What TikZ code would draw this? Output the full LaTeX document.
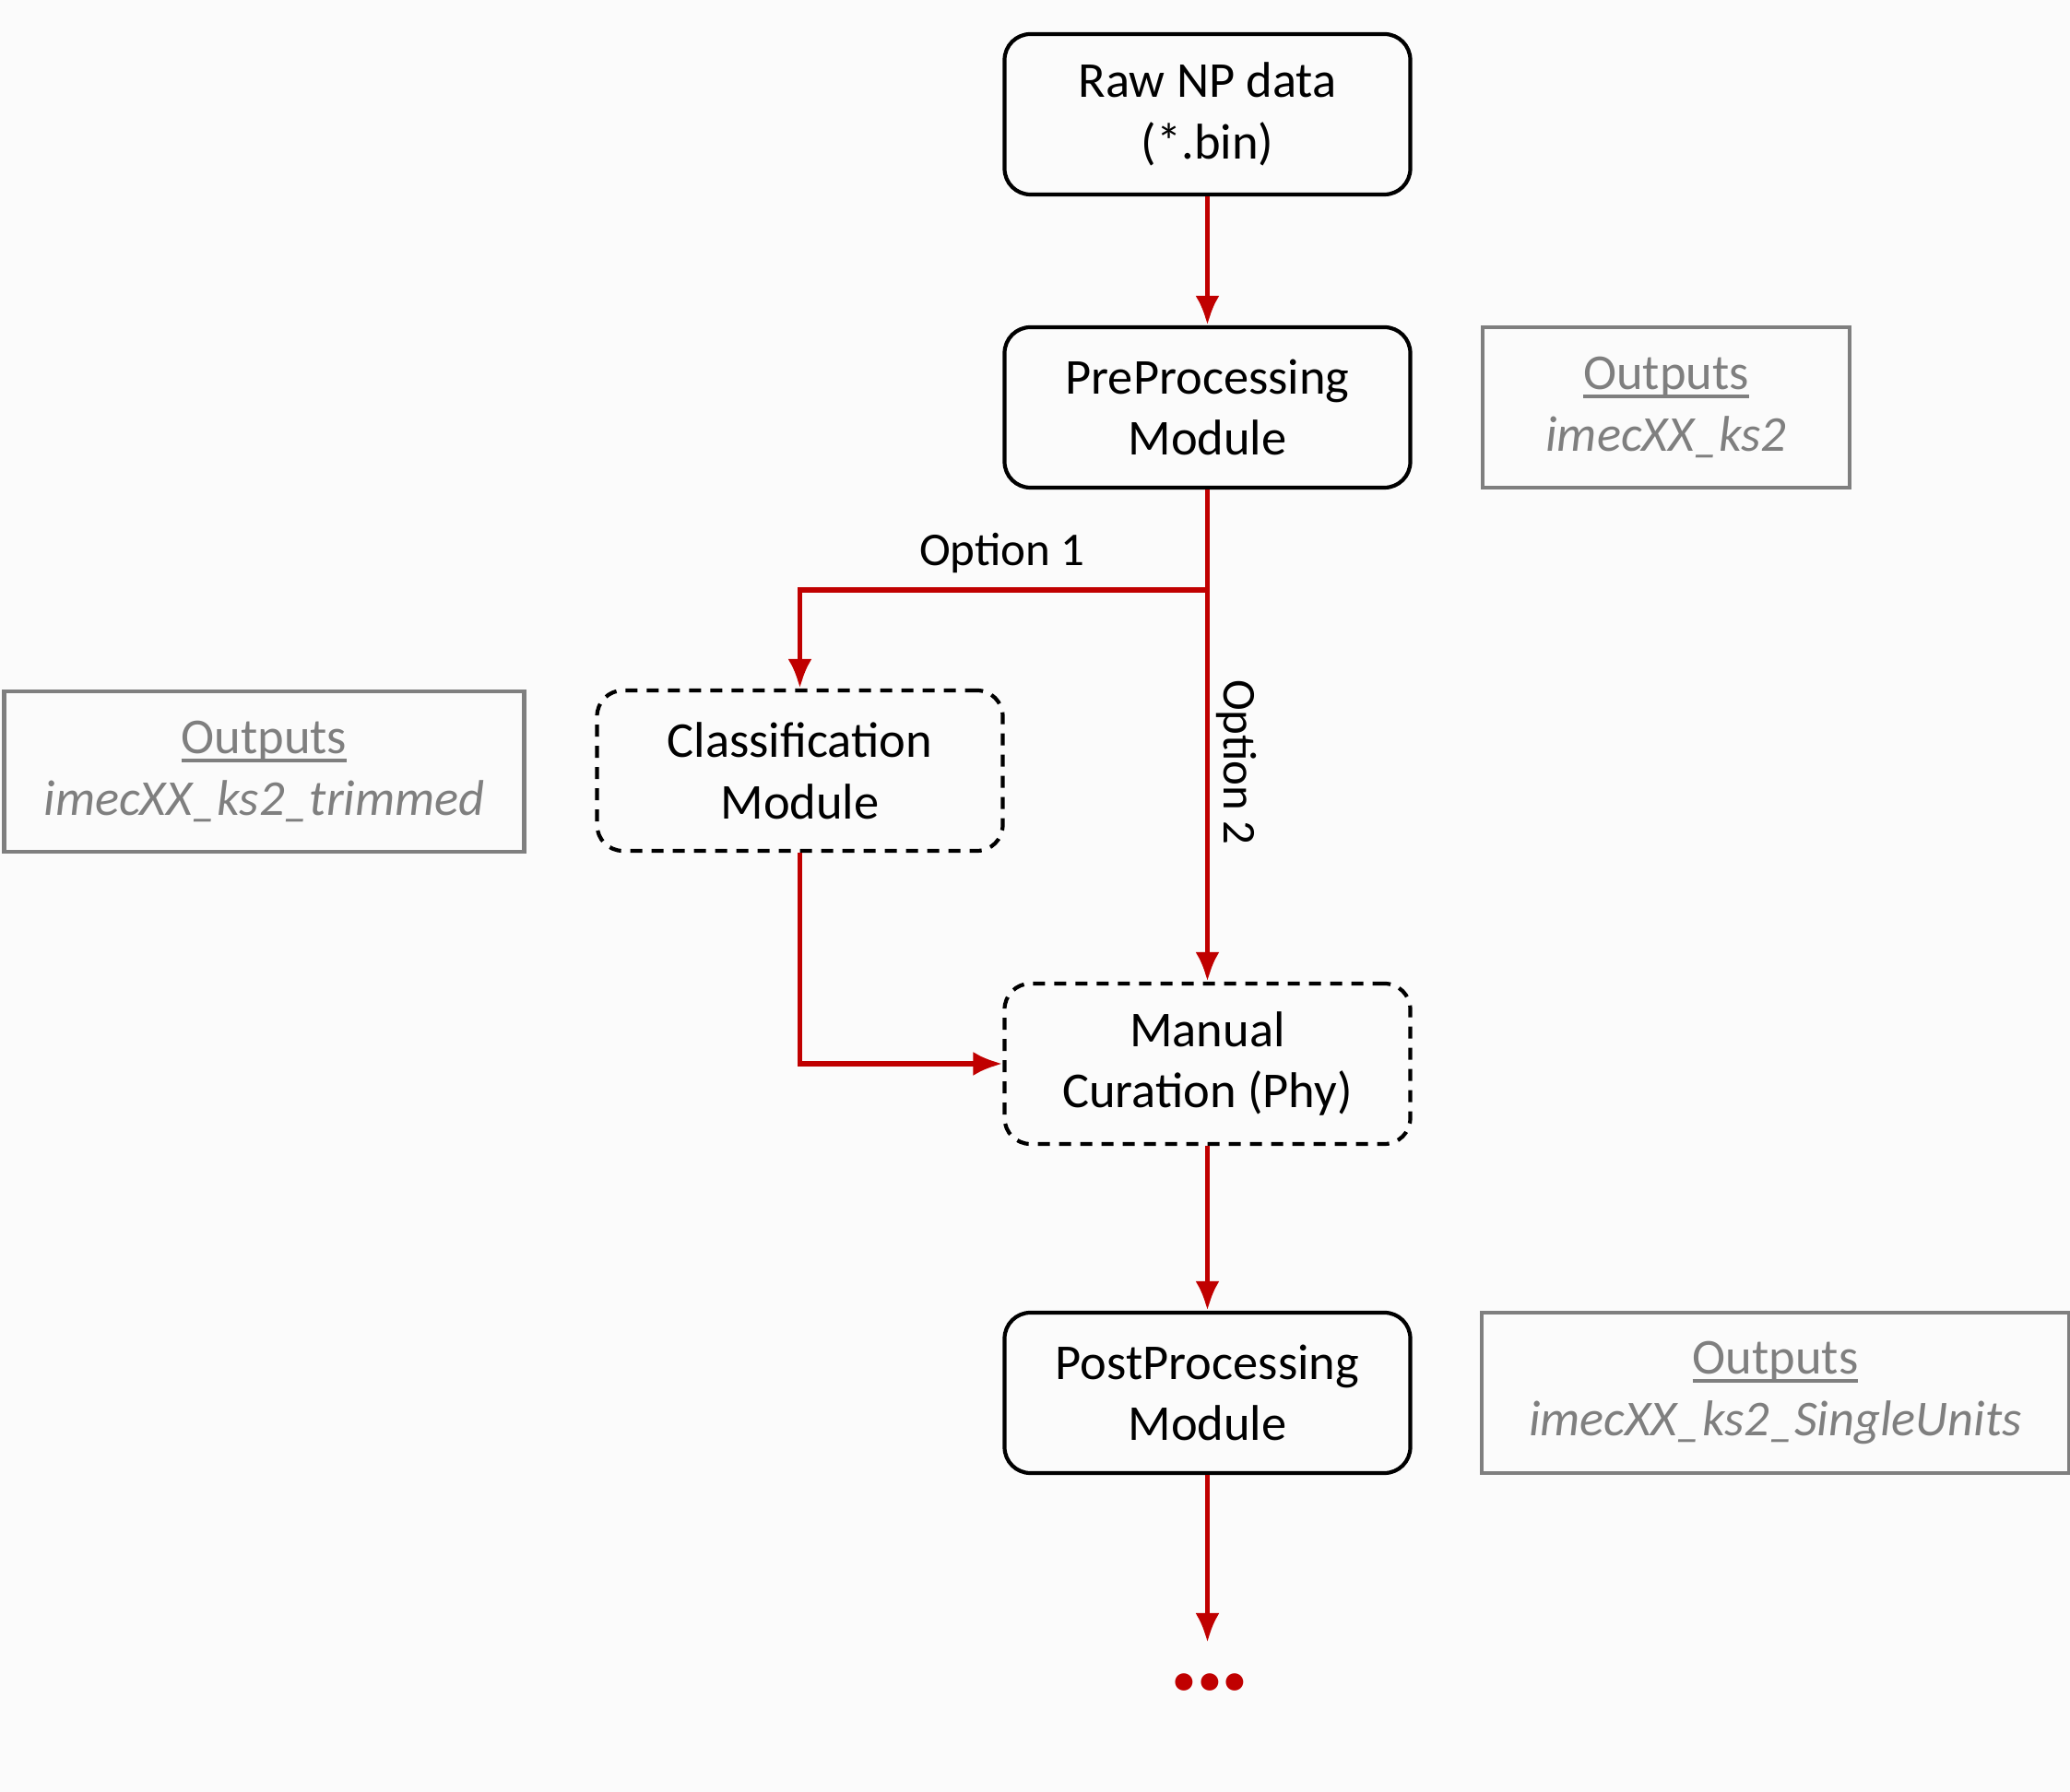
\documentclass[tikz,border=0pt]{standalone}
\usepackage{fontspec}
\usepackage{tikz}
\setmainfont{Carlito}
\definecolor{flowred}{HTML}{C00000}
\definecolor{outgray}{HTML}{7F7F7F}
\definecolor{bggray}{HTML}{FBFBFB}
\usetikzlibrary{arrows.meta,positioning}
\tikzstyle{line} = [draw=flowred, line width=1.6pt, -{Latex[length=0.32cm,width=0.26cm]}]
\newcommand{\boxtext}{\fontsize{15.5}{19}\selectfont}
\newcommand{\outhead}[1]{\setbox0\hbox{#1}\rlap{\raisebox{-2.6pt}{\rule{\wd0}{1.1pt}}}\box0}

\begin{document}
\begin{tikzpicture}[
	module/.style={draw, line width=1.2pt, rounded corners=0.28cm, align=center,
		minimum width=4.4cm, minimum height=1.74cm, inner sep=0pt, font=\boxtext},
	optional/.style={module, dashed, dash pattern=on 0.13cm off 0.1cm},
	outbox/.style={draw=outgray, line width=1.2pt, align=center, text=outgray,
		minimum height=1.74cm, inner sep=0pt, font=\boxtext},
	optlabel/.style={font=\fontsize{14.5}{17}\selectfont, inner sep=1pt}
	]
	% Background and frame:
	\fill[bggray] (0,0) rectangle (22.45,-19.44);
	\useasboundingbox (0,0) rectangle (22.45,-19.44);
	% Modules:
	\node[module] (raw) at (13.095,-1.24) {Raw NP data\\(*.bin)};
	\node[module] (pre) at (13.095,-4.42) {PreProcessing\\Module};
	\node[optional] (cls) at (8.675,-8.36) {Classification\\Module};
	\node[optional] (man) at (13.095,-11.54) {Manual\\Curation (Phy)};
	\node[module] (post) at (13.095,-15.11) {PostProcessing\\Module};
	% Outputs:
	\node[outbox, minimum width=3.98cm] (outpre) at (18.07,-4.42)
		{\outhead{Outputs}\\\textit{imecXX\_ks2}};
	\node[outbox, minimum width=5.64cm] (outcls) at (2.865,-8.37)
		{\outhead{Outputs}\\\textit{imecXX\_ks2\_trimmed}};
	\node[outbox, minimum width=6.37cm] (outpost) at (19.255,-15.11)
		{\outhead{Outputs}\\\textit{imecXX\_ks2\_SingleUnits}};
	% Helper points:
	\coordinate (split) at (13.095,-6.40);
	\coordinate (tail) at (13.095,-17.82);
	% Flows:
	\path[line] (raw) -- (pre);
	\draw[flowred, line width=1.6pt] (pre) -- (split);
	\path[line] (split) -| (cls); % Option 1
	\path[line] (split) -- (man); % Option 2
	\path[line] (cls) |- (man);
	\path[line] (man) -- (post);
	\path[line] (post) -- (tail);
	% Labels:
	\node[optlabel] (opt1) at (10.87,-6.0) {Option 1};
	\node[optlabel, rotate=-90] (opt2) at (13.41,-8.27) {Option 2};
	\node[text=flowred, font=\fontsize{36}{40}\selectfont\bfseries] (more) at (13.12,-18.25) {.\kern-1.9pt.\kern-1.9pt.};
\end{tikzpicture}
\end{document}
